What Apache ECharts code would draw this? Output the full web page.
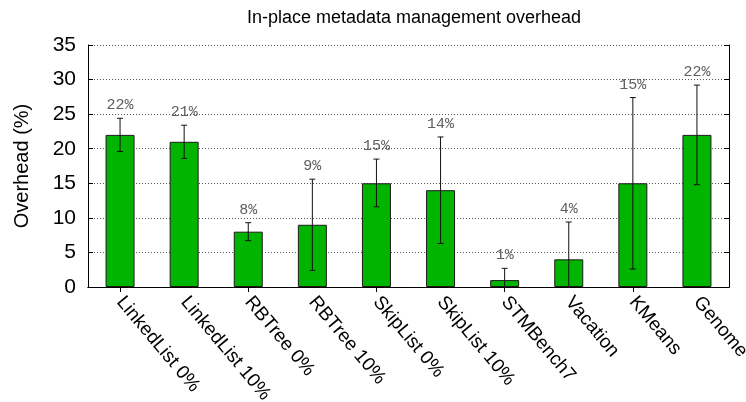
<!DOCTYPE html>
<html>
<head>
<meta charset="utf-8">
<script src="https://cdn.jsdelivr.net/npm/echarts@6/dist/echarts.min.js"></script>
<style>
  html, body { margin: 0; padding: 0; background: #fff; }
  #chart { width: 746px; height: 402px; }
</style>
</head>
<body>
<div id="chart"></div>
<script>
// Benchmarks and their measured metadata overhead (%)
const categories = ['LinkedList 0%', 'LinkedList 10%', 'RBTree 0%', 'RBTree 10%',
  'SkipList 0%', 'SkipList 10%', 'STMBench7', 'Vacation', 'KMeans', 'Genome'];
const overhead = [22, 21, 8, 9, 15, 14, 1, 4, 15, 22];
// Error bar bounds (low / high)
const errLow  = [19.6, 18.6, 6.7, 2.4, 11.6, 6.3, -0.7, -1.4, 2.6, 14.8];
const errHigh = [24.4, 23.4, 9.3, 15.6, 18.5, 21.7, 2.7, 9.4, 27.4, 29.2];
// Y axis ticks
const yMin = 0, yMax = 35, yStep = 5;

const chart = echarts.init(document.getElementById('chart'), null, { renderer: 'canvas' });

const errData = categories.map((c, i) => [i, errLow[i], errHigh[i], overhead[i]]);

function renderError(params, api) {
  const i = api.value(0);
  const lo = api.coord([i, api.value(1)]);
  const hi = api.coord([i, api.value(2)]);
  const cap = 3;
  const stroke = { stroke: '#111', lineWidth: 1 };
  return {
    type: 'group',
    children: [
      { type: 'line', shape: { x1: hi[0], y1: hi[1], x2: lo[0], y2: lo[1] }, style: stroke },
      { type: 'line', shape: { x1: hi[0] - cap, y1: hi[1], x2: hi[0] + cap, y2: hi[1] }, style: stroke },
      { type: 'line', shape: { x1: lo[0] - cap, y1: lo[1], x2: lo[0] + cap, y2: lo[1] }, style: stroke }
    ]
  };
}

function renderLabel(params, api) {
  const i = api.value(0);
  const hi = api.coord([i, api.value(2)]);
  return {
    type: 'text',
    x: hi[0],
    y: hi[1] - 13,
    style: {
      text: api.value(3) + '%',
      fill: '#5e5e5e',
      font: '15px "Liberation Mono", monospace',
      align: 'center',
      verticalAlign: 'middle'
    }
  };
}

const option = {
  backgroundColor: '#fff',
  animation: false,
  title: {
    text: 'In-place metadata management overhead',
    left: 409,
    textAlign: 'center',
    top: 4,
    textStyle: { fontFamily: 'Liberation Sans', fontSize: 18, fontWeight: 'normal', color: '#000' }
  },
  grid: { left: 88, right: 17, top: 45, bottom: 115, containLabel: false, outerBoundsMode: 'none' },
  xAxis: [
    {
      type: 'category',
      data: categories,
      position: 'bottom',
      axisLine: { show: true, lineStyle: { color: '#000', width: 1 } },
      axisTick: { show: true, inside: true, alignWithLabel: true, length: 5, lineStyle: { color: '#000' } },
      axisLabel: {
        interval: 0, rotate: -50, margin: 12,
        fontFamily: 'Liberation Sans', fontSize: 19, color: '#000'
      },
      splitLine: { show: false }
    },
    {
      type: 'category',
      data: categories,
      position: 'top',
      axisLine: { show: true, lineStyle: { color: '#000', width: 1 } },
      axisTick: { show: true, inside: true, alignWithLabel: true, length: 5, lineStyle: { color: '#000' } },
      axisLabel: { show: false },
      splitLine: { show: false }
    }
  ],
  yAxis: [
    {
      type: 'value',
      min: yMin, max: yMax, interval: yStep,
      name: 'Overhead (%)',
      nameLocation: 'middle',
      nameGap: 56,
      nameRotate: 90,
      nameTextStyle: { fontFamily: 'Liberation Sans', fontSize: 20, color: '#000' },
      axisLine: { show: true, lineStyle: { color: '#000', width: 1 } },
      axisTick: { show: true, inside: true, length: 5, lineStyle: { color: '#000' } },
      axisLabel: { margin: 12, fontFamily: 'Liberation Sans', fontSize: 21, color: '#000' },
      splitLine: { show: true, lineStyle: { color: '#555', width: 1, type: [1, 2] } }
    },
    {
      type: 'value',
      min: yMin, max: yMax, interval: yStep,
      position: 'right',
      axisLine: { show: true, lineStyle: { color: '#000', width: 1 } },
      axisTick: { show: true, inside: true, length: 5, lineStyle: { color: '#000' } },
      axisLabel: { show: false },
      splitLine: { show: false }
    }
  ],
  series: [
    {
      type: 'bar',
      data: overhead,
      barWidth: 29,
      itemStyle: { color: '#00b400', borderColor: '#1a1a1a', borderWidth: 1 },
      z: 2
    },
    {
      type: 'custom',
      data: errData,
      renderItem: renderError,
      clip: true,
      encode: { x: 0, y: [1, 2] },
      z: 3
    },
    {
      type: 'custom',
      data: errData,
      renderItem: renderLabel,
      encode: { x: 0, y: 2 },
      z: 4
    }
  ]
};

chart.setOption(option);
</script>
</body>
</html>
